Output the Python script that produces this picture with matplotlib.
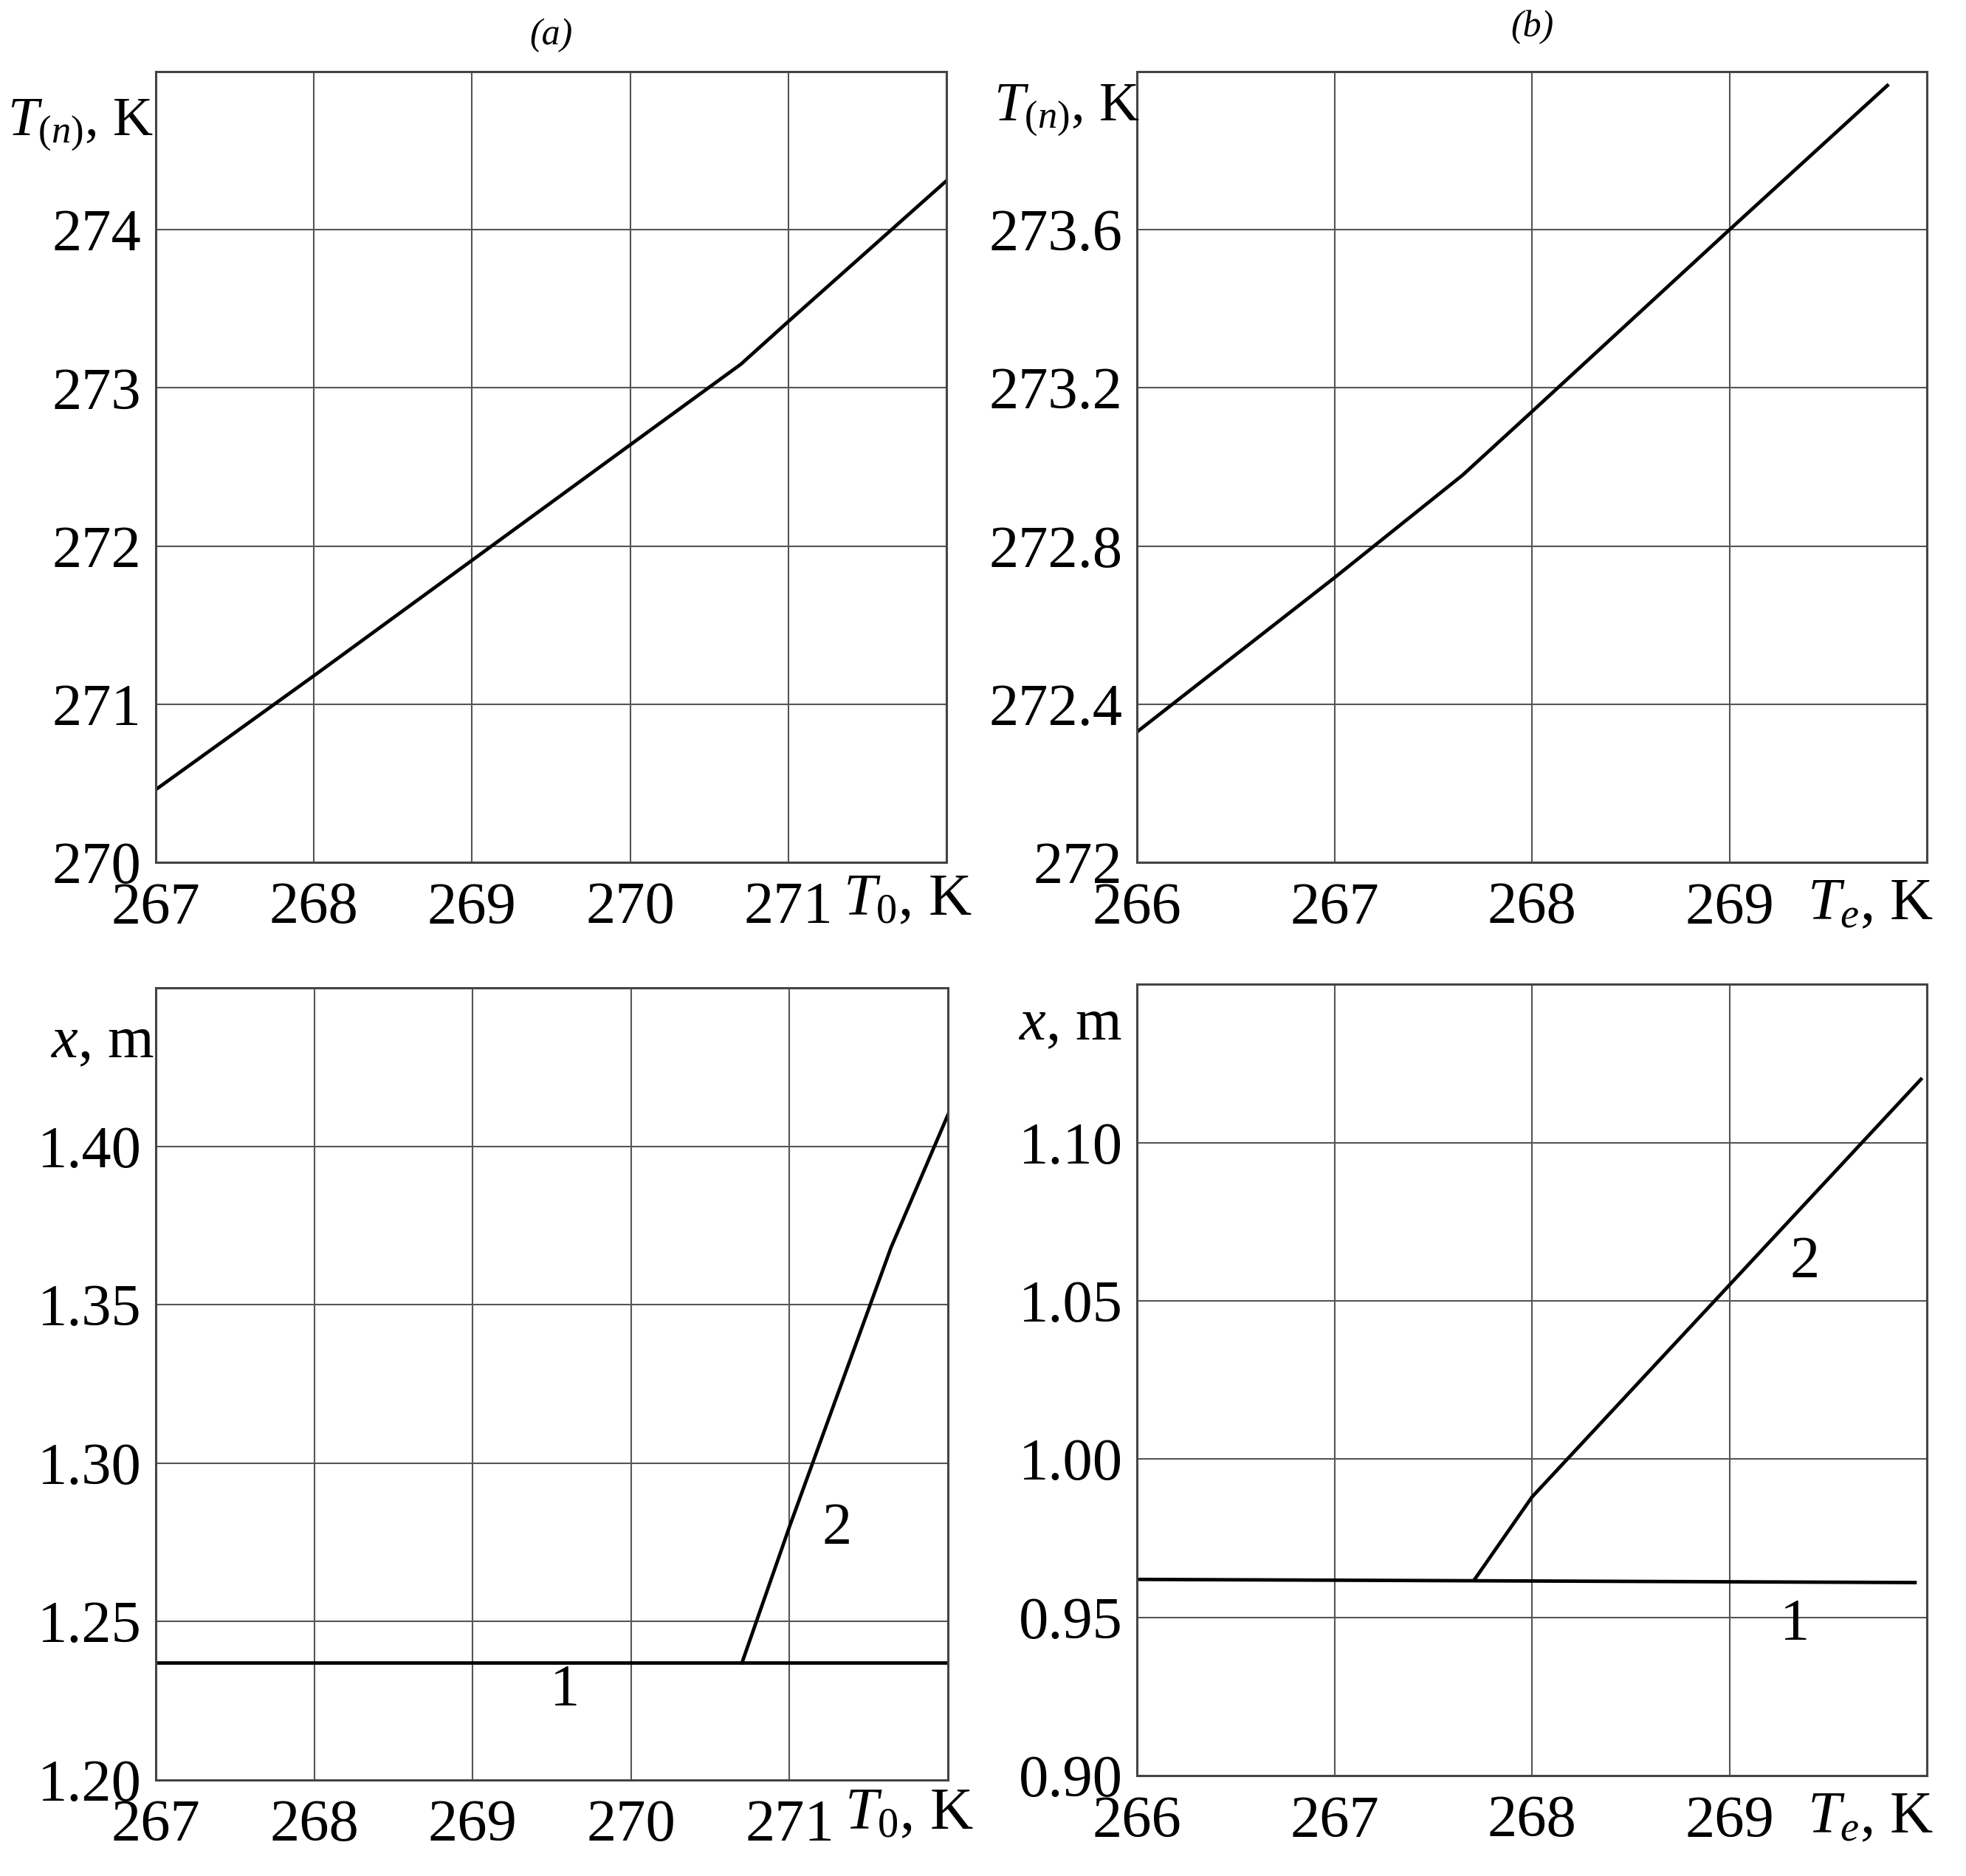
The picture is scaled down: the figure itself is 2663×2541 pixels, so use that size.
import numpy as np
import matplotlib.pyplot as plt

plt.rcParams['font.family'] = ['Liberation Serif', 'DejaVu Serif']
plt.rcParams['mathtext.fontset'] = 'custom'
plt.rcParams['mathtext.rm'] = 'Liberation Serif'
plt.rcParams['mathtext.it'] = 'Liberation Serif:italic'

# (a) top: T_(n) versus T_0
a_top_x = [267.0, 268.0, 269.0, 270.0, 270.7, 271.0, 272.0]
a_top_y = [270.46, 271.18, 271.91, 272.64, 273.15, 273.42, 274.31]

# (b) top: T_(n) versus T_e
b_top_x = [266.0, 267.0, 267.65, 268.0, 269.0, 269.8]
b_top_y = [272.33, 272.72, 272.98, 273.14, 273.60, 273.965]

# (a) bottom: x versus T_0, curves 1 and 2
a_bot_x1 = [267.0, 272.0]
a_bot_y1 = [1.237, 1.237]
a_bot_x2 = [270.7, 271.0, 271.64, 272.0]
a_bot_y2 = [1.237, 1.280, 1.368, 1.410]

# (b) bottom: x versus T_e, curves 1 and 2
b_bot_x1 = [266.0, 269.94]
b_bot_y1 = [0.962, 0.961]
b_bot_x2 = [267.71, 268.0, 269.97]
b_bot_y2 = [0.962, 0.988, 1.120]

a_xticks = [267, 268, 269, 270, 271, 272]
b_xticks = [266, 267, 268, 269, 270]
a_top_yticks = [270, 271, 272, 273, 274, 275]
b_top_yticks = [272.0, 272.4, 272.8, 273.2, 273.6, 274.0]
b_top_ylabels = ['272', '272.4', '272.8', '273.2', '273.6', '']
a_bot_yticks = [1.20, 1.25, 1.30, 1.35, 1.40, 1.45]
b_bot_yticks = [0.90, 0.95, 1.00, 1.05, 1.10, 1.15]

fig = plt.figure(figsize=(26.63, 25.41), dpi=100)
ax1 = fig.add_axes([0.0792, 0.5403, 0.4022, 0.4215])
ax2 = fig.add_axes([0.5783, 0.5403, 0.4018, 0.4215])
ax3 = fig.add_axes([0.0792, 0.0512, 0.4030, 0.4222])
ax4 = fig.add_axes([0.5783, 0.0535, 0.4018, 0.4218])

FS = 58
lc = 'black'
lw = 3.4


def style(ax, xt, yt, ylabels):
    ax.set_xlim(xt[0], xt[-1])
    ax.set_ylim(yt[0], yt[-1])
    ax.set_xticks(xt)
    ax.set_yticks(yt)
    xl = [str(v) for v in xt]
    xl[-1] = ''
    ax.set_xticklabels(xl)
    yl = list(ylabels)
    yl[-1] = ''
    ax.set_yticklabels(yl)
    ax.tick_params(length=0, labelsize=FS)
    ax.tick_params(axis='x', pad=19)
    ax.tick_params(axis='y', pad=14)
    ax.grid(True, color='#555555', lw=1.5)
    for s in ax.spines.values():
        s.set_color('#444444')
        s.set_linewidth(2.2)


style(ax1, a_xticks, a_top_yticks, [str(v) for v in a_top_yticks])
style(ax2, b_xticks, b_top_yticks, b_top_ylabels)
style(ax3, a_xticks, a_bot_yticks, ['%.2f' % v for v in a_bot_yticks])
style(ax4, b_xticks, b_bot_yticks, ['%.2f' % v for v in b_bot_yticks])

ax1.plot(a_top_x, a_top_y, color=lc, lw=lw)
ax2.plot(b_top_x, b_top_y, color=lc, lw=lw)
ax3.plot(a_bot_x1, a_bot_y1, color=lc, lw=lw)
ax3.plot(a_bot_x2, a_bot_y2, color=lc, lw=lw)
ax4.plot(b_bot_x1, b_bot_y1, color=lc, lw=lw)
ax4.plot(b_bot_x2, b_bot_y2, color=lc, lw=lw)

# curve numbers
ax3.text(271.3, 1.279, '2', fontsize=FS, ha='center', va='center')
ax3.text(269.58, 1.228, '1', fontsize=FS, ha='center', va='center')
ax4.text(269.38, 1.062, '2', fontsize=FS, ha='center', va='center')
ax4.text(269.33, 0.9475, '1', fontsize=FS, ha='center', va='center')

# panel titles
ax1.text(0.5, 1.046, '(a)', transform=ax1.transAxes, fontsize=36,
         style='italic', ha='center', va='center')
ax2.text(0.5, 1.056, '(b)', transform=ax2.transAxes, fontsize=36,
         style='italic', ha='center', va='center')

# axis labels
ax1.text(-0.003, 0.932, r'$T_{(n)}$, K', transform=ax1.transAxes,
         fontsize=54, ha='right', va='center')
ax2.text(0.003, 0.951, r'$T_{(n)}$, K', transform=ax2.transAxes,
         fontsize=54, ha='right', va='center')
ax3.text(-0.001, 0.930, r'$x$, m', transform=ax3.transAxes,
         fontsize=FS, ha='right', va='center')
ax4.text(-0.018, 0.948, r'$x$, m', transform=ax4.transAxes,
         fontsize=FS, ha='right', va='center')

ax1.text(0.951, -0.048, r'$T_{0}$, K', transform=ax1.transAxes,
         fontsize=FS, ha='center', va='center')
ax2.text(0.929, -0.054, r'$T_{e}$, K', transform=ax2.transAxes,
         fontsize=FS, ha='center', va='center')
ax3.text(0.951, -0.044, r'$T_{0}$, K', transform=ax3.transAxes,
         fontsize=FS, ha='center', va='center')
ax4.text(0.929, -0.054, r'$T_{e}$, K', transform=ax4.transAxes,
         fontsize=FS, ha='center', va='center')

fig.savefig('out.png', dpi=100, facecolor='white')
